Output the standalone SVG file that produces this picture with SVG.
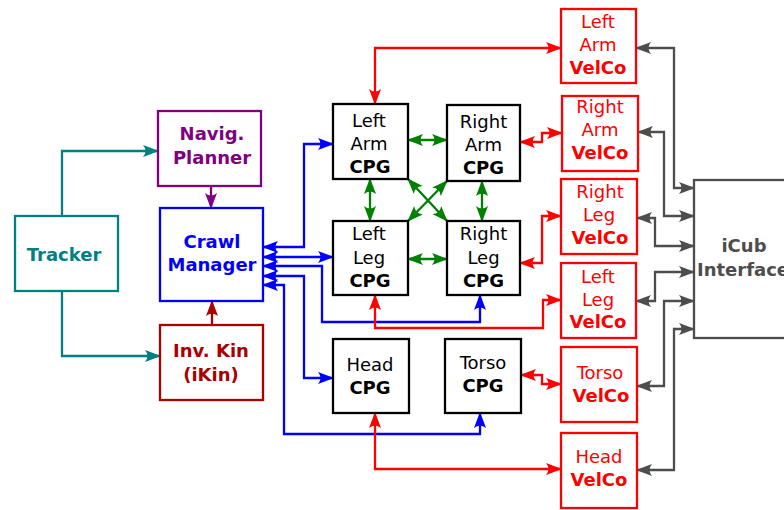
<svg xmlns="http://www.w3.org/2000/svg" width="784" height="510" viewBox="0 0 784 510">
<defs>
<style>
text{font-family:"DejaVu Sans","Noto Sans",sans-serif;font-size:18px;text-anchor:middle}
.b{font-weight:bold}
.box{fill:#fff;stroke-width:2.3}
.c{fill:none;stroke-width:2.3}
</style>
<marker id="mT" viewBox="-17 -8 19 16" refX="0" refY="0" markerWidth="19" markerHeight="16" markerUnits="userSpaceOnUse" orient="auto-start-reverse"><path d="M1,0 L-15,-6 Q-10,0 -15,6 Z" fill="#008080"/></marker>
<marker id="mP" viewBox="-17 -8 19 16" refX="0" refY="0" markerWidth="19" markerHeight="16" markerUnits="userSpaceOnUse" orient="auto-start-reverse"><path d="M1,0 L-15,-6 Q-10,0 -15,6 Z" fill="#800080"/></marker>
<marker id="mD" viewBox="-17 -8 19 16" refX="0" refY="0" markerWidth="19" markerHeight="16" markerUnits="userSpaceOnUse" orient="auto-start-reverse"><path d="M1,0 L-15,-6 Q-10,0 -15,6 Z" fill="#aa0000"/></marker>
<marker id="mB" viewBox="-17 -8 19 16" refX="0" refY="0" markerWidth="19" markerHeight="16" markerUnits="userSpaceOnUse" orient="auto-start-reverse"><path d="M1,0 L-15,-6 Q-10,0 -15,6 Z" fill="#0000ff"/></marker>
<marker id="mR" viewBox="-17 -8 19 16" refX="0" refY="0" markerWidth="19" markerHeight="16" markerUnits="userSpaceOnUse" orient="auto-start-reverse"><path d="M1,0 L-15,-6 Q-10,0 -15,6 Z" fill="#ff0000"/></marker>
<marker id="mG" viewBox="-17 -8 19 16" refX="0" refY="0" markerWidth="19" markerHeight="16" markerUnits="userSpaceOnUse" orient="auto-start-reverse"><path d="M1,0 L-15,-6 Q-10,0 -15,6 Z" fill="#008000"/></marker>
<marker id="mY" viewBox="-17 -8 19 16" refX="0" refY="0" markerWidth="19" markerHeight="16" markerUnits="userSpaceOnUse" orient="auto-start-reverse"><path d="M1,0 L-15,-6 Q-10,0 -15,6 Z" fill="#4d4d4d"/></marker>
</defs>
<rect width="784" height="510" fill="#fff"/>

<g id="connectors">
<g marker-end="url(#mT)">
<path class="c" stroke="#008080" d="M62,216 V151 H158"/>
<path class="c" stroke="#008080" d="M62,291 V356 H160"/>
</g>
<path class="c" stroke="#800080" marker-end="url(#mP)" d="M211,186 V208"/>
<path class="c" stroke="#aa0000" marker-end="url(#mD)" d="M212,325 V301"/>
<g marker-start="url(#mB)" marker-end="url(#mB)">
<path class="c" stroke="#0000ff" d="M263,247 H304 V144 H333"/>
<path class="c" stroke="#0000ff" d="M263,257 H333"/>
<path class="c" stroke="#0000ff" d="M263,266 H322 V322 H480 V295"/>
<path class="c" stroke="#0000ff" d="M263,276 H304 V378 H333"/>
<path class="c" stroke="#0000ff" d="M263,285 H284 V434 H480 V413"/>
</g>
<g marker-start="url(#mR)" marker-end="url(#mR)">
<path class="c" stroke="#ff0000" d="M375,104 V48 H561"/>
<path class="c" stroke="#ff0000" d="M520,142 H542 V133 H562"/>
<path class="c" stroke="#ff0000" d="M520,263 H542 V216 H561"/>
<path class="c" stroke="#ff0000" d="M375,295 V328 H543 V300 H561"/>
<path class="c" stroke="#ff0000" d="M521,375 H542 V384 H561"/>
<path class="c" stroke="#ff0000" d="M375,413 V469 H561"/>
</g>
<g marker-start="url(#mG)" marker-end="url(#mG)">
<path class="c" stroke="#008000" d="M408,140 H447"/>
<path class="c" stroke="#008000" d="M408,259 H447"/>
<path class="c" stroke="#008000" d="M370,179 V221"/>
<path class="c" stroke="#008000" d="M482,181 V221"/>
<path class="c" stroke="#008000" d="M408,179 L447,221"/>
<path class="c" stroke="#008000" d="M447,181 L408,221"/>
</g>
<g marker-start="url(#mY)" marker-end="url(#mY)">
<path class="c" stroke="#4d4d4d" d="M636,48 H674 V188 H694"/>
<path class="c" stroke="#4d4d4d" d="M638,132 H664 V216 H694"/>
<path class="c" stroke="#4d4d4d" d="M637,218 H655 V246 H694"/>
<path class="c" stroke="#4d4d4d" d="M636,301 H655 V272 H694"/>
<path class="c" stroke="#4d4d4d" d="M637,386 H664 V301 H694"/>
<path class="c" stroke="#4d4d4d" d="M637,470 H674 V329 H694"/>
</g>
</g>

<g id="tracker"><rect class="box" stroke="#008080" x="15" y="216" width="103" height="75"/><text class="b" fill="#008080" x="64" y="261">Tracker</text></g>
<g id="navig"><rect class="box" stroke="#800080" x="158" y="111" width="103" height="75"/><text class="b" fill="#800080" x="212" y="140">Navig.</text><text class="b" fill="#800080" x="212" y="164">Planner</text></g>
<g id="crawl"><rect class="box" stroke="#0000ff" x="160" y="208" width="103" height="93"/><text class="b" fill="#0000ff" x="212" y="248">Crawl</text><text class="b" fill="#0000ff" x="212" y="271">Manager</text></g>
<g id="invkin"><rect class="box" stroke="#aa0000" x="160" y="325" width="103" height="75"/><text class="b" fill="#aa0000" x="211" y="357">Inv. Kin</text><text class="b" fill="#aa0000" x="211" y="381">(iKin)</text></g>

<g id="leftArmCPG"><rect class="box" stroke="#000" x="333" y="104" width="75" height="75"/><text x="369" y="127">Left</text><text x="369" y="150">Arm</text><text class="b" x="370" y="173">CPG</text></g>
<g id="rightArmCPG"><rect class="box" stroke="#000" x="447" y="105" width="73" height="76"/><text x="483.5" y="128">Right</text><text x="483.5" y="151">Arm</text><text class="b" x="483.5" y="174">CPG</text></g>
<g id="leftLegCPG"><rect class="box" stroke="#000" x="333" y="221" width="75" height="74"/><text x="369" y="240">Left</text><text x="369" y="264">Leg</text><text class="b" x="370" y="287">CPG</text></g>
<g id="rightLegCPG"><rect class="box" stroke="#000" x="447" y="221" width="73" height="74"/><text x="483.5" y="240">Right</text><text x="483.5" y="264">Leg</text><text class="b" x="483.5" y="287">CPG</text></g>
<g id="headCPG"><rect class="box" stroke="#000" x="333" y="339" width="76" height="74"/><text x="370" y="371">Head</text><text class="b" x="370" y="394">CPG</text></g>
<g id="torsoCPG"><rect class="box" stroke="#000" x="445" y="339" width="76" height="74"/><text x="483" y="369">Torso</text><text class="b" x="483" y="392">CPG</text></g>

<g id="leftArmVelCo" fill="#ff0000"><rect class="box" stroke="#ff0000" x="561" y="9" width="75" height="74"/><text x="598" y="28">Left</text><text x="598" y="51">Arm</text><text class="b" x="598" y="74">VelCo</text></g>
<g id="rightArmVelCo" fill="#ff0000"><rect class="box" stroke="#ff0000" x="562" y="96" width="76" height="75"/><text x="600" y="113">Right</text><text x="600" y="136">Arm</text><text class="b" x="600" y="159">VelCo</text></g>
<g id="rightLegVelCo" fill="#ff0000"><rect class="box" stroke="#ff0000" x="561" y="179" width="76" height="75"/><text x="600" y="198">Right</text><text x="599" y="221">Leg</text><text class="b" x="600" y="244">VelCo</text></g>
<g id="leftLegVelCo" fill="#ff0000"><rect class="box" stroke="#ff0000" x="561" y="263" width="75" height="75"/><text x="598" y="283">Left</text><text x="598" y="306">Leg</text><text class="b" x="598" y="328">VelCo</text></g>
<g id="torsoVelCo" fill="#ff0000"><rect class="box" stroke="#ff0000" x="561" y="347" width="76" height="75"/><text x="600" y="379">Torso</text><text class="b" x="601" y="402">VelCo</text></g>
<g id="headVelCo" fill="#ff0000"><rect class="box" stroke="#ff0000" x="561" y="433" width="76" height="75"/><text x="599" y="463">Head</text><text class="b" x="599" y="486">VelCo</text></g>

<g id="icub"><rect class="box" stroke="#4d4d4d" x="694" y="180" width="100" height="158"/><text class="b" fill="#4d4d4d" x="744" y="252">iCub</text><text class="b" fill="#4d4d4d" x="743" y="276">Interface</text></g>
</svg>
